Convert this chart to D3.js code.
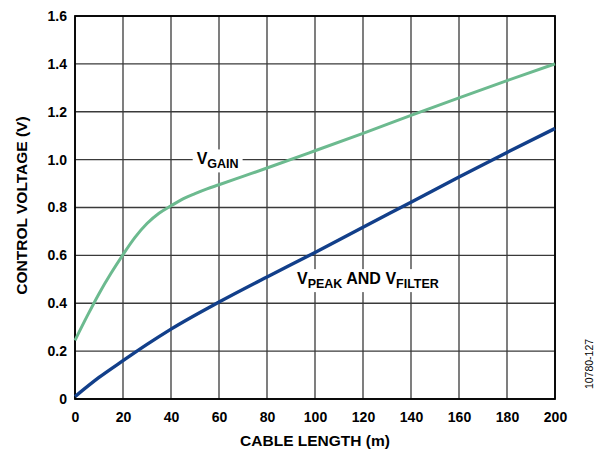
<!DOCTYPE html>
<html>
<head>
<meta charset="utf-8">
<script src="https://cdn.jsdelivr.net/npm/d3@7"></script>
<style>
  html, body { margin: 0; padding: 0; background: #fff; }
  svg { display: block; }
  text { font-family: "Liberation Sans", Arial, sans-serif; font-weight: bold; fill: #000; }
</style>
</head>
<body>
<svg id="chart" width="603" height="455"></svg>
<script>
// Cable length (m) sample points and the control voltages measured there
const gainLength = [0, 5, 10, 15, 20, 25, 30, 35, 40, 45, 50, 55, 60, 70, 80, 100, 120, 140, 160, 180, 200];
const gainVolts  = [0.245, 0.345, 0.44, 0.525, 0.603, 0.675, 0.733, 0.776, 0.807, 0.836, 0.858, 0.878, 0.895, 0.93, 0.965, 1.037, 1.11, 1.185, 1.258, 1.33, 1.40];

const peakLength = [0, 10, 20, 30, 40, 60, 80, 100, 120, 140, 160, 180, 200];
const peakVolts  = [0.01, 0.09, 0.16, 0.228, 0.292, 0.405, 0.51, 0.612, 0.718, 0.822, 0.927, 1.03, 1.13];

const xTicks = [0, 20, 40, 60, 80, 100, 120, 140, 160, 180, 200];
const yTicks = [0, 0.2, 0.4, 0.6, 0.8, 1.0, 1.2, 1.4, 1.6];

const margin = { top: 16, right: 48, bottom: 56, left: 75 };
const W = 603, H = 455;
const iw = W - margin.left - margin.right;
const ih = H - margin.top - margin.bottom;

const svg = d3.select("#chart");
const g = svg.append("g").attr("transform", `translate(${margin.left},${margin.top})`);

const x = d3.scaleLinear().domain([0, 200]).range([0, iw]);
const y = d3.scaleLinear().domain([0, 1.6]).range([ih, 0]);

// grid
g.append("g").selectAll("line").data(xTicks).join("line")
  .attr("x1", d => x(d)).attr("x2", d => x(d))
  .attr("y1", 0).attr("y2", ih)
  .attr("stroke", "#3a3a3a").attr("stroke-width", 1.3);
g.append("g").selectAll("line").data(yTicks).join("line")
  .attr("x1", 0).attr("x2", iw)
  .attr("y1", d => y(d)).attr("y2", d => y(d))
  .attr("stroke", "#3a3a3a").attr("stroke-width", 1.3);

// axes (labels only; frame drawn separately)
const xAxis = g.append("g").attr("transform", `translate(0,${ih})`)
  .call(d3.axisBottom(x).tickValues(xTicks).tickSize(0).tickPadding(13).tickFormat(d3.format("d")));
const yAxis = g.append("g")
  .call(d3.axisLeft(y).tickValues(yTicks).tickSize(0).tickPadding(8)
    .tickFormat(d => d === 0 ? "0" : d3.format(".1f")(d)));
[xAxis, yAxis].forEach(a => {
  a.select(".domain").remove();
  a.selectAll("text").style("font-size", "14px").style("font-family", "'Liberation Sans', Arial, sans-serif").style("font-weight", "bold").attr("fill", "#000");
});

// frame
g.append("rect").attr("x", 0).attr("y", 0).attr("width", iw).attr("height", ih)
  .attr("fill", "none").attr("stroke", "#000").attr("stroke-width", 1.8);

// curves
const line = d3.line().curve(d3.curveMonotoneX);
g.append("path")
  .attr("d", line(gainLength.map((d, i) => [x(d), y(gainVolts[i])])))
  .attr("fill", "none").attr("stroke", "#6cba8f").attr("stroke-width", 3);
g.append("path")
  .attr("d", line(peakLength.map((d, i) => [x(d), y(peakVolts[i])])))
  .attr("fill", "none").attr("stroke", "#123f8a").attr("stroke-width", 3.4);

// curve labels with white backing
function subLabel(px, py, parts) {
  const lg = g.append("g");
  const bg = lg.append("rect").attr("fill", "#fff");
  const t = lg.append("text").attr("x", px).attr("y", py).style("font-size", "16px");
  parts.forEach(p => {
    t.append("tspan").text(p[0])
      .style("font-size", p[1] ? "12.5px" : "16px")
      .attr("dy", p[1] ? 4 : (p[2] || 0));
  });
  const b = t.node().getBBox();
  bg.attr("x", b.x - 4).attr("y", b.y - 1).attr("width", b.width + 8).attr("height", b.height + 2);
}
subLabel(x(50.7), y(0.98), [["V"], ["GAIN", true]]);
subLabel(x(92.5), y(0.48), [["V"], ["PEAK", true], [" AND ", false, -4], ["V"], ["FILTER", true]]);

// axis titles
svg.append("text").attr("x", margin.left + iw / 2).attr("y", 446)
  .attr("text-anchor", "middle").style("font-size", "15.5px").text("CABLE LENGTH (m)");
svg.append("text").attr("transform", `translate(27,${margin.top + ih / 2 - 2}) rotate(-90)`)
  .attr("text-anchor", "middle").style("font-size", "15.5px").text("CONTROL VOLTAGE (V)");

// figure id
svg.append("text").attr("transform", "translate(593,364) rotate(-90)")
  .attr("text-anchor", "middle").style("font-size", "10.5px").style("font-weight", "normal")
  .text("10780-127");
</script>
</body>
</html>
